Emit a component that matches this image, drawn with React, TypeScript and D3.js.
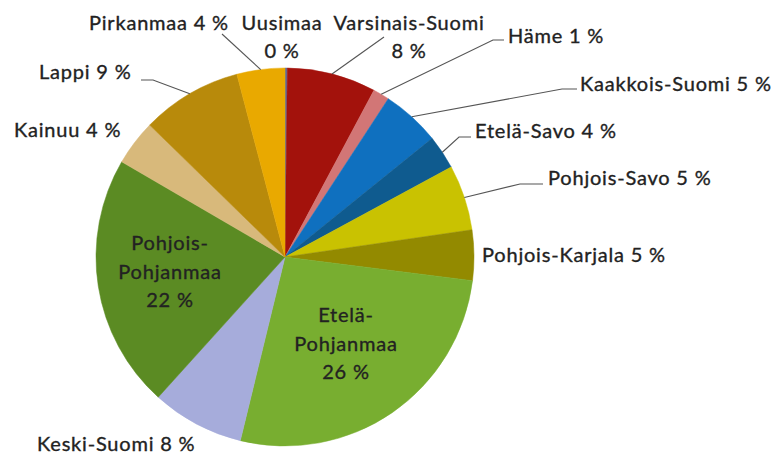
import React from "react";
import * as d3 from "d3";

const regions = [
  "Uusimaa",
  "Varsinais-Suomi",
  "Häme",
  "Kaakkois-Suomi",
  "Etelä-Savo",
  "Pohjois-Savo",
  "Pohjois-Karjala",
  "Etelä-Pohjanmaa",
  "Keski-Suomi",
  "Pohjois-Pohjanmaa",
  "Kainuu",
  "Lappi",
  "Pirkanmaa",
];
// slice sizes (in %)
const shares = [0.2, 7.6, 1.4, 5.0, 2.9, 5.6, 4.3, 26.8, 7.9, 21.7, 3.9, 8.6, 4.1];
// percentages printed in the labels
const labelPercents = [0, 8, 1, 5, 4, 5, 5, 26, 8, 22, 4, 9, 4];
const colors = [
  "#5f6f9e",
  "#a3120c",
  "#d27676",
  "#0f70bf",
  "#0f5b8f",
  "#c9c201",
  "#938a00",
  "#78ae30",
  "#a6acdb",
  "#5b8b23",
  "#d8b97b",
  "#b88a0b",
  "#e9a900",
];

// label layout: x, first baseline y, anchor, mode ("one" = single line, "two" = name / pct, "three" = split name / pct)
const labelLayout: { x: number; y: number; anchor: string; mode: string }[] = [
  { x: 282, y: 30, anchor: "middle", mode: "two" },
  { x: 409, y: 30, anchor: "middle", mode: "two" },
  { x: 508, y: 43, anchor: "start", mode: "one" },
  { x: 580, y: 91, anchor: "start", mode: "one" },
  { x: 475, y: 138, anchor: "start", mode: "one" },
  { x: 548, y: 185, anchor: "start", mode: "one" },
  { x: 482, y: 262, anchor: "start", mode: "one" },
  { x: 346, y: 322, anchor: "middle", mode: "three" },
  { x: 37, y: 451, anchor: "start", mode: "one" },
  { x: 170, y: 250, anchor: "middle", mode: "three" },
  { x: 14, y: 137, anchor: "start", mode: "one" },
  { x: 39, y: 79, anchor: "start", mode: "one" },
  { x: 89, y: 30, anchor: "start", mode: "one" },
];

// leader line points (after the point on the pie edge)
const leaderPoints: ([number, number][] | null)[] = [
  null,
  [[384, 37]],
  [[493, 40], [504, 40]],
  [[562, 89], [577, 89]],
  [[459, 137], [471, 137]],
  [[520, 184], [543, 184]],
  null,
  null,
  null,
  null,
  null,
  [[153, 80], [141, 80]],
  [[222, 34]],
];

const W = 782;
const H = 455;
const cx = 285;
const cy = 257;
const R = 189;

export default function App() {
  const pie = d3
    .pie<number>()
    .sort(null)
    .value((d) => d)
    .startAngle(0)
    .endAngle(2 * Math.PI);
  const arcs = pie(shares);
  const arc = d3.arc<d3.PieArcDatum<number>>().innerRadius(0).outerRadius(R);
  const line = d3.line();

  const fontFamily = "Lato, 'Open Sans', sans-serif";

  return (
    <svg
      width={W}
      height={H}
      style={{ position: "fixed", left: 0, top: 0, background: "#fff" }}
      fontFamily={fontFamily}
    >
      <g transform={`translate(${cx},${cy})`}>
        {arcs.map((a, i) => (
          <path key={i} d={arc(a) || ""} fill={colors[i]} stroke={colors[i]} strokeWidth={0.5} />
        ))}
      </g>
      {arcs.map((a, i) => {
        const pts = leaderPoints[i];
        if (!pts) return null;
        const mid = (a.startAngle + a.endAngle) / 2;
        const start: [number, number] = [cx + R * Math.sin(mid), cy - R * Math.cos(mid)];
        return (
          <path
            key={"l" + i}
            d={line([start, ...pts]) || ""}
            fill="none"
            stroke="#555"
            strokeWidth={1.1}
          />
        );
      })}
      {regions.map((name, i) => {
        const L = labelLayout[i];
        const pct = `${labelPercents[i]} %`;
        let lines: string[];
        let gap = 28;
        if (L.mode === "one") lines = [`${name} ${pct}`];
        else if (L.mode === "two") lines = [name, pct];
        else {
          const k = name.indexOf("-");
          lines = [name.slice(0, k + 1), name.slice(k + 1), pct];
          gap = 28.5;
        }
        return (
          <text
            key={"t" + i}
            x={L.x}
            y={L.y}
            textAnchor={L.anchor}
            fontSize={20}
            letterSpacing={0.8}
            fill="#222"
            stroke="#222"
            strokeWidth={0.35}
          >
            {lines.map((s, j) => (
              <tspan key={j} x={L.x} dy={j === 0 ? 0 : gap}>
                {s}
              </tspan>
            ))}
          </text>
        );
      })}
    </svg>
  );
}
